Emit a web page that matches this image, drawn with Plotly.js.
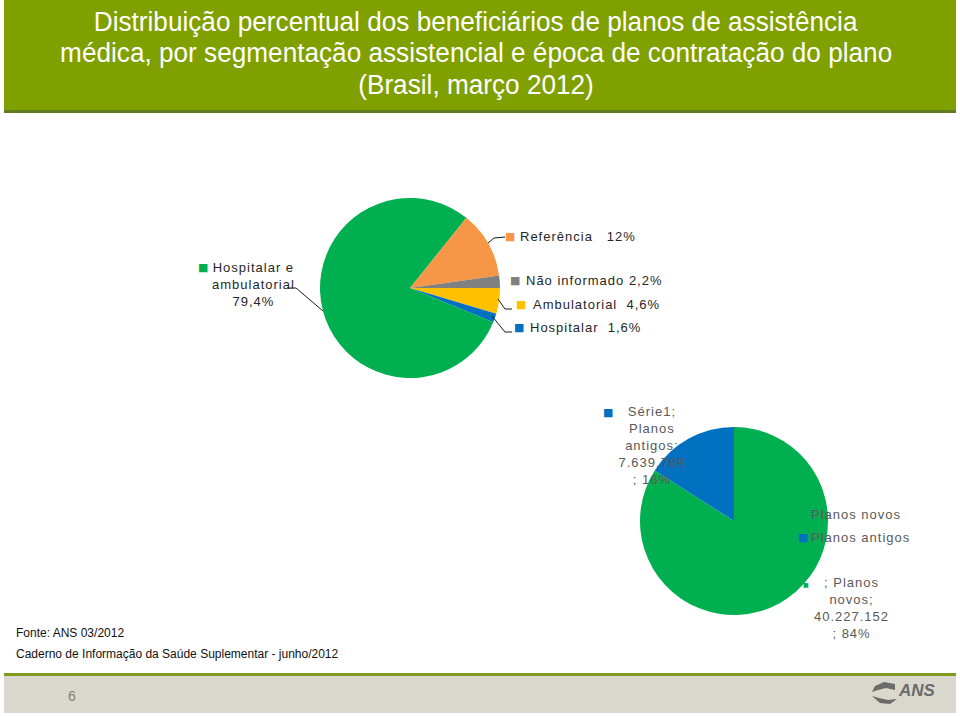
<!DOCTYPE html>
<html>
<head>
<meta charset="utf-8">
<script src="https://cdn.plot.ly/plotly-3.0.1.min.js"></script>
<style>
html,body{margin:0;padding:0;background:#ffffff;}
#chart{width:960px;height:716px;}
</style>
<style id="spacing"></style>
</head>
<body>
<div id="chart"></div>
<script>
// ---- data ----
var titleLines = [
  'Distribuição percentual dos beneficiários de planos de assistência',
  'médica, por segmentação assistencial e época de contratação do plano',
  '(Brasil, março 2012)'
];
var segLabels = ['Ambulatorial', 'Hospitalar', 'Hospitalar e ambulatorial', 'Referência', 'Não informado'];
var segValues = [4.6, 1.6, 79.4, 12, 2.2];
var epochLabels = ['Planos novos', 'Planos antigos'];
var epochValues = [40227152, 7639789];
var epochPct = [84, 16];
var seriesName = 'Série1';
var sourceLines = ['Fonte: ANS 03/2012', 'Caderno de Informação da Saúde Suplementar - junho/2012'];
var pageNumber = '6';

// ---- styles ----
var segColors = ['#FFC000', '#0070C0', '#00B050', '#F79646', '#808080'];
var epochColors = ['#00B050', '#0070C0'];
var W = 960, H = 716;
function px(x) { return x / W; }
function py(y) { return 1 - y / H; }
function pct(v) { return String(v).replace('.', ',') + '%'; }
function thousands(v) { return String(v).replace(/\B(?=(\d{3})+(?!\d))/g, '.'); }
var NB = '\u00a0';
var labelFont = {family: 'Liberation Sans, Arial, sans-serif', size: 13, color: '#262626'};
var label2Font = {family: 'Liberation Sans, Arial, sans-serif', size: 13, color: '#595959'};

var traces = [
  {
    type: 'pie', labels: segLabels, values: segValues, sort: false,
    direction: 'clockwise', rotation: 90, textinfo: 'none', hoverinfo: 'label+percent',
    marker: {colors: segColors, line: {width: 0}}, showlegend: false,
    domain: {x: [px(320), px(500)], y: [py(378), py(198)]}
  },
  {
    type: 'pie', labels: epochLabels, values: epochValues, sort: false,
    direction: 'clockwise', rotation: 0, textinfo: 'none', hoverinfo: 'label+value+percent',
    marker: {colors: epochColors, line: {width: 0}}, showlegend: false,
    domain: {x: [px(640), px(828)], y: [py(615), py(427)]}
  }
];

var ann = [];
var spaced = [];
var condensed = [];
function addAnn(o, sp) { if (sp) spaced.push(ann.length); ann.push(o); }
function txt(x, y, text, font, xanchor) {
  var xa = xanchor || 'left';
  return {xref: 'paper', yref: 'paper', x: px(x), y: py(y), text: text, showarrow: false,
          xanchor: xa, yanchor: 'middle', align: xa === 'left' ? 'left' : 'center', font: font,
          borderpad: 0};
}
function sq(x, y, color, size) {
  return txt(x, y, '■', {family: 'DejaVu Sans, sans-serif', size: size || 11, color: color}, 'center');
}

// title
var titleY = [21, 53, 85];
titleLines.forEach(function (t, i) {
  condensed.push(ann.length);
  addAnn(txt(476, titleY[i], t, {family: 'Liberation Sans, Arial, sans-serif', size: 28, color: '#ffffff'}, 'center'), false);
});

// pie 1 labels
addAnn(sq(510, 236, segColors[3]), false);
addAnn(txt(519, 236, segLabels[3] + NB + NB + NB + pct(segValues[3]), labelFont), true);
addAnn(sq(515, 281, segColors[4]), false);
addAnn(txt(525, 281, segLabels[4] + ' ' + pct(segValues[4]), labelFont), true);
addAnn(sq(521, 304, segColors[0]), false);
addAnn(txt(532, 304, segLabels[0] + NB + NB + pct(segValues[0]), labelFont), true);
addAnn(sq(519, 327, segColors[1]), false);
addAnn(txt(529, 327, segLabels[1] + NB + NB + pct(segValues[1]), labelFont), true);
addAnn(sq(203, 267, segColors[2]), false);
addAnn(txt(253, 284, 'Hospitalar e<br>ambulatorial<br>' + pct(segValues[2]), labelFont, 'center'), true);

// pie 2 labels
addAnn(sq(608, 412, epochColors[1]), false);
addAnn(txt(652, 445, seriesName + ';<br>Planos<br>antigos;<br>' + thousands(epochValues[1]) + '<br>; ' + epochPct[1] + '%', label2Font, 'center'), true);
addAnn(sq(806, 584, epochColors[0], 6), false);
addAnn(txt(851, 608, '; Planos<br>novos;<br>' + thousands(epochValues[0]) + '<br>; ' + epochPct[0] + '%', label2Font, 'center'), true);

// legend for pie 2
addAnn(sq(803, 514, epochColors[0]), false);
addAnn(txt(810, 514, epochLabels[0], label2Font), true);
addAnn(sq(803, 537, epochColors[1]), false);
addAnn(txt(810, 537, epochLabels[1], label2Font), true);

// source
addAnn(txt(15, 633, sourceLines[0], {family: 'Liberation Sans, Arial, sans-serif', size: 12, color: '#111111'}), false);
addAnn(txt(15, 654, sourceLines[1], {family: 'Liberation Sans, Arial, sans-serif', size: 12, color: '#111111'}), false);

// footer
addAnn(txt(72, 696, pageNumber, {family: 'Liberation Sans, Arial, sans-serif', size: 14, color: '#808080'}, 'center'), false);
addAnn(txt(897, 690, '<b><i>ANS</i></b>', {family: 'Liberation Sans, sans-serif', size: 17, color: '#6b6b6b'}), false);

function pathPx(pts) {
  return pts.map(function (p, i) { return (i ? 'L' : 'M') + px(p[0]) + ',' + py(p[1]); }).join(' ');
}
var line = {color: '#1a1a1a', width: 1};
var shapes = [
  {type: 'rect', xref: 'paper', yref: 'paper', x0: px(4), x1: px(956), y0: py(110), y1: py(0), fillcolor: '#80A000', line: {width: 0}, layer: 'below'},
  {type: 'rect', xref: 'paper', yref: 'paper', x0: px(4), x1: px(956), y0: py(113), y1: py(110), fillcolor: '#5E7C1E', line: {width: 0}, layer: 'below'},
  {type: 'rect', xref: 'paper', yref: 'paper', x0: px(4), x1: px(956), y0: py(676), y1: py(673), fillcolor: '#7D9B1C', line: {width: 0}, layer: 'below'},
  {type: 'rect', xref: 'paper', yref: 'paper', x0: px(4), x1: px(956), y0: py(713), y1: py(676), fillcolor: '#DAD7CC', line: {width: 0}, layer: 'below'},
  {type: 'path', xref: 'paper', yref: 'paper', path: pathPx([[488, 243], [494, 238], [505, 237]]), line: line},
  {type: 'path', xref: 'paper', yref: 'paper', path: pathPx([[498, 299], [505, 309], [512, 309]]), line: line},
  {type: 'path', xref: 'paper', yref: 'paper', path: pathPx([[492, 316], [505, 332], [512, 332]]), line: line},
  {type: 'path', xref: 'paper', yref: 'paper', path: pathPx([[287, 288], [296, 288], [323, 311]]), line: line},
  // ANS logo mark
  {type: 'path', xref: 'paper', yref: 'paper', path: pathPx([[895, 684], [884, 682], [875, 686], [872, 692], [878, 690], [886, 688], [895, 690]]) + ' Z', fillcolor: '#6b6b6b', line: {width: 0}},
  {type: 'path', xref: 'paper', yref: 'paper', path: pathPx([[872, 696], [880, 703], [890, 704], [897, 699], [888, 700], [879, 698]]) + ' Z', fillcolor: '#6b6b6b', line: {width: 0}}
];

var layout = {
  width: W, height: H, margin: {l: 0, r: 0, t: 0, b: 0},
  paper_bgcolor: '#ffffff', plot_bgcolor: '#ffffff',
  showlegend: false, annotations: ann, shapes: shapes
};

var css = spaced.map(function (i) {
  return 'g.annotation[data-index="' + i + '"] text{letter-spacing:1px;}';
});
condensed.forEach(function (i) {
  css.push('g.annotation[data-index="' + i + '"] text{transform:scaleX(0.935);transform-box:fill-box;transform-origin:center;}');
});
document.getElementById('spacing').textContent = css.join('\n');

Plotly.newPlot('chart', traces, layout, {displayModeBar: false, staticPlot: true});
</script>
</body>
</html>
